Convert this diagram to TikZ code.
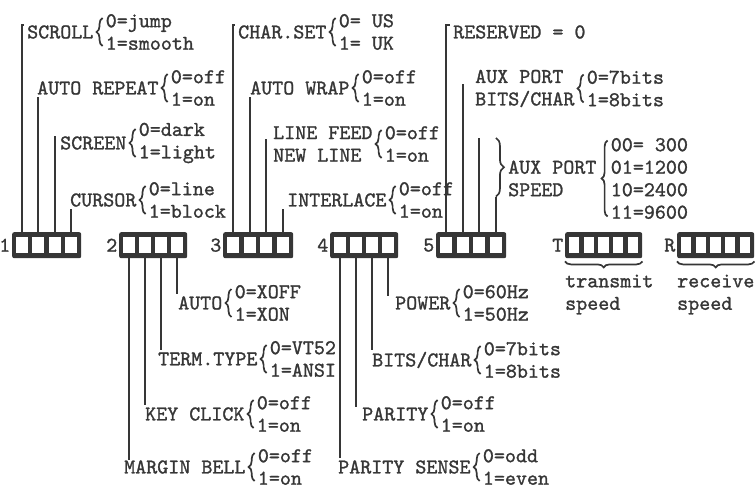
\documentclass[tikz,border=0pt]{standalone}
\usepackage{fontspec}
\usetikzlibrary{positioning,decorations.pathreplacing}
\definecolor{ink}{HTML}{363636}
\newfontfamily\dipfam{lmmono10-regular.otf}[FakeBold=1.2]
\newcommand\dipfont{\fontsize{21}{22.5}\selectfont\dipfam}
\tikzset{
  dip/.style={fill=ink, rounded corners=2pt, inner sep=0pt, minimum height=26pt, anchor=north west},
  lbl/.style={font=\dipfont, text=ink, inner sep=0pt, align=left, anchor=west},
  wire/.style={draw=ink, line width=2.2pt},
  brc/.style={draw=ink, line width=1.7pt, decorate, decoration={brace, amplitude=#1}},
  brc/.default=6pt
}
\begin{document}
\begin{tikzpicture}[x=1pt, y=-1pt]
\useasboundingbox (0,0) rectangle (755,490);

% switch blocks
\foreach \b/\x/\w/\n/\t in {b1/12/69/4/1, b2/119/68/4/2, b3/223/70/4/3, b4/330/68/4/4, b5/436/70/4/5, bt/565/77/5/T, br/677/77/5/R} {
  \node[dip, minimum width=\w pt] (\b) at (\x,232) {};
  \node[lbl, left=1.5pt of \b] (\b-num) {\t};
  \pgfmathsetmacro\cw{(\w-8-4.5*(\n-1))/\n}
  \foreach \i in {1,...,\n} {
    \pgfmathsetmacro\cx{\x+4+(\i-1)*(\cw+4.5)}
    \fill[white] (\cx,237) rectangle ++(\cw,16);
    \coordinate (\b-\i) at (\cx+\cw/2,232);
    \coordinate (\b-\i-d) at (\cx+\cw/2,258);
  }
}

% block 1
\node[lbl] (scroll) at (27,32) {SCROLL};
\node[lbl, right=12pt of scroll] (scroll-v) {0=jump\\1=smooth};
\node[lbl] (rep) at (37,88) {AUTO REPEAT};
\node[lbl, right=12pt of rep] (rep-v) {0=off\\1=on};
\node[lbl] (screen) at (60,143) {SCREEN};
\node[lbl, right=12pt of screen] (screen-v) {0=dark\\1=light};
\node[lbl] (cursor) at (70,200) {CURSOR};
\node[lbl, right=12pt of cursor] (cursor-v) {0=line\\1=block};
\draw[wire] (b1-1) |- ([xshift=-3pt]scroll.north west);
\draw[wire, shorten >=2pt] (b1-2) -- (b1-2 |- rep.south);
\draw[wire] (b1-3) -- (b1-3 |- screen.north);
\draw[wire, shorten >=2pt] (b1-4) -- (b1-4 |- cursor.south);

% block 3
\node[lbl] (chset) at (238,32) {CHAR.SET};
\node[lbl, right=12pt of chset] (chset-v) {0= US\\1= UK};
\node[lbl] (wrap) at (250,88) {AUTO WRAP};
\node[lbl, right=12pt of wrap] (wrap-v) {0=off\\1=on};
\node[lbl] (lf) at (273,144) {LINE FEED\\NEW LINE};
\node[lbl, right=12pt of lf] (lf-v) {0=off\\1=on};
\node[lbl] (ilace) at (287,200) {INTERLACE};
\node[lbl, right=12pt of ilace] (ilace-v) {0=off\\1=on};
\coordinate (lf-end) at ([yshift=5pt]lf.west);
\draw[wire] (b3-1) |- ([xshift=-3pt]chset.north west);
\draw[wire, shorten >=2pt] (b3-2) -- (b3-2 |- wrap.south);
\draw[wire] (b3-3) -- (b3-3 |- lf-end);
\draw[wire, shorten >=2pt] (b3-4) -- (b3-4 |- ilace.south);

% block 5
\node[lbl] (resv) at (453,32) {RESERVED = 0};
\node[lbl] (auxb) at (475,88.5) {AUX PORT\\BITS/CHAR};
\node[lbl, right=12pt of auxb] (auxb-v) {0=7bits\\1=8bits};
\node[lbl] (auxs) at (508,178.5) {AUX PORT\\SPEED};
\node[lbl, right=14pt of auxs] (auxs-v) {00= 300\\01=1200\\10=2400\\11=9600};
\coordinate (auxb-end) at ([yshift=5pt]auxb.west);
\draw[wire] (b5-1) |- ([xshift=-3pt]resv.north west);
\draw[wire] (b5-2) -- (b5-2 |- auxb-end);
\draw[wire] (b5-3) -- (b5-3 |- auxs-v.north);
\draw[wire] (b5-4) -- (b5-4 |- auxs.south);
\draw[brc=8pt] (b5-4 |- auxs-v.north) -- (b5-4 |- auxs.south);
\draw[brc] ([xshift=-3pt,yshift=-38pt]auxs-v.west) -- ([xshift=-3pt,yshift=38pt]auxs-v.west);

% block 2
\node[lbl] (auto) at (178,303) {AUTO};
\node[lbl, right=12pt of auto] (auto-v) {0=XOFF\\1=XON};
\node[lbl] (term) at (158,359) {TERM.TYPE};
\node[lbl, right=12pt of term] (term-v) {0=VT52\\1=ANSI};
\node[lbl] (click) at (145,414) {KEY CLICK};
\node[lbl, right=12pt of click] (click-v) {0=off\\1=on};
\node[lbl] (bell) at (124,467) {MARGIN BELL};
\node[lbl, right=12pt of bell] (bell-v) {0=off\\1=on};
\draw[wire, shorten >=2pt] (b2-4-d) -- (b2-4-d |- auto.north);
\draw[wire, shorten >=2pt] (b2-3-d) -- (b2-3-d |- term.north);
\draw[wire, shorten >=2pt] (b2-2-d) -- (b2-2-d |- click.north);
\draw[wire] (b2-1-d) -- (b2-1-d |- bell.north);

% block 4
\node[lbl] (power) at (395,303) {POWER};
\node[lbl, right=12pt of power] (power-v) {0=60Hz\\1=50Hz};
\node[lbl] (bits) at (372,360) {BITS/CHAR};
\node[lbl, right=12pt of bits] (bits-v) {0=7bits\\1=8bits};
\node[lbl] (par) at (362,414) {PARITY};
\node[lbl, right=12pt of par] (par-v) {0=off\\1=on};
\node[lbl] (psense) at (338,467) {PARITY SENSE};
\node[lbl, right=12pt of psense] (psense-v) {0=odd\\1=even};
\draw[wire] (b4-4-d) -- (b4-4-d |- power.north);
\draw[wire, shorten >=2pt] (b4-3-d) -- (b4-3-d |- bits.north);
\draw[wire] (b4-2-d) -- (b4-2-d |- par.north);
\draw[wire, shorten >=2pt] (b4-1-d) -- (b4-1-d |- psense.north);

% value braces
\foreach \v in {scroll-v,rep-v,screen-v,cursor-v,chset-v,wrap-v,lf-v,ilace-v,auxb-v,auto-v,term-v,click-v,bell-v,power-v,bits-v,par-v,psense-v}
  \draw[brc] ([xshift=-3pt,yshift=-14pt]\v.west) -- ([xshift=-3pt,yshift=14pt]\v.west);

% speed blocks
\draw[brc] ([yshift=-3pt]bt.south east) -- ([yshift=-3pt]bt.south west);
\draw[brc] ([yshift=-3pt]br.south east) -- ([yshift=-3pt]br.south west);
\node[lbl, anchor=north west] (tx) at ([yshift=-16pt]bt.south west) {transmit\\speed};
\node[lbl, anchor=north west] (rx) at ([yshift=-16pt]br.south west) {receive\\speed};
\end{tikzpicture}
\end{document}
